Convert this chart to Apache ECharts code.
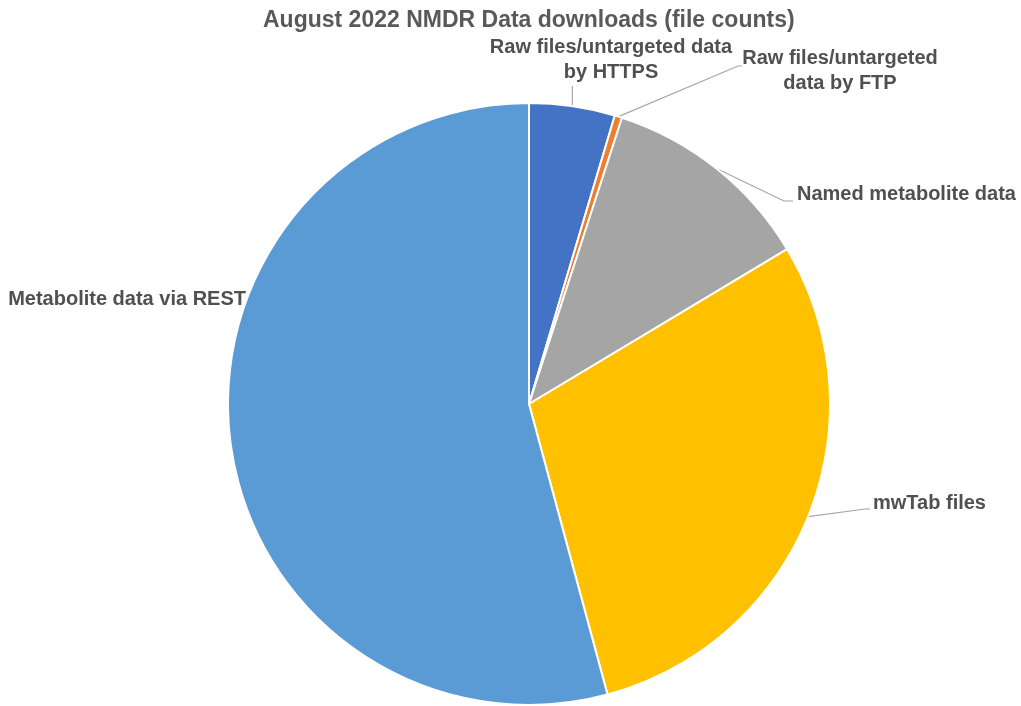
<!DOCTYPE html>
<html>
<head>
<meta charset="utf-8">
<script src="https://cdn.jsdelivr.net/npm/echarts@6/dist/echarts.min.js"></script>
<style>html,body{margin:0;padding:0;background:#fff;}#c{width:1021px;height:706px;}</style>
</head>
<body>
<div id="c"></div>
<script>
var categories = [
  'Raw files/untargeted data\nby HTTPS',
  'Raw files/untargeted\ndata by FTP',
  'Named metabolite data',
  'mwTab files',
  'Metabolite data via REST'
];
var values = [4.6, 0.4, 11.4, 29.4, 54.2];
var colors = ['#4472C4', '#ED7D31', '#A5A5A5', '#FFC000', '#5B9BD5'];

var labelSpots = [
  {x: 611, y: 60, align: 'center', bend: function (p) { return [[p[0], 86], [p[0], 86]]; }},
  {x: 840, y: 71, align: 'center', bend: function () { return [[738, 66], [742, 66]]; }},
  {x: 797, y: 194, align: 'left', bend: function () { return [[784, 201], [793, 201]]; }},
  {x: 873, y: 503, align: 'left', bend: function () { return [[865, 509], [870, 509]]; }},
  {x: 246, y: 299, align: 'right', bend: null}
];

var chart = echarts.init(document.getElementById('c'));
chart.setOption({
  animation: false,
  title: {
    text: 'August 2022 NMDR Data downloads (file counts)',
    left: 258,
    top: 4,
    textStyle: {fontFamily: 'Liberation Sans', fontSize: 23, fontWeight: 'bold', color: '#595959'}
  },
  series: [{
    type: 'pie',
    center: [529, 404],
    radius: 301,
    startAngle: 90,
    clockwise: true,
    avoidLabelOverlap: false,
    itemStyle: {borderColor: '#fff', borderWidth: 2},
    label: {
      show: true,
      position: 'outside',
      formatter: '{b}',
      fontFamily: 'Liberation Sans',
      fontSize: 20,
      fontWeight: 'bold',
      color: '#505050',
      lineHeight: 25,
      align: 'center'
    },
    labelLine: {show: true, lineStyle: {color: '#A6A6A6', width: 1.2}},
    labelLayout: function (params) {
      var s = labelSpots[params.dataIndex];
      var out = {x: s.x, y: s.y, align: s.align, verticalAlign: 'middle'};
      if (s.bend && params.labelLinePoints) {
        var p0 = params.labelLinePoints[0];
        var b = s.bend(p0);
        out.labelLinePoints = [p0, b[0], b[1]];
      }
      return out;
    },
    data: categories.map(function (c, i) {
      var d = {name: c, value: values[i], itemStyle: {color: colors[i]}};
      if (i === 4) d.labelLine = {show: false};
      return d;
    })
  }]
});
</script>
</body>
</html>
